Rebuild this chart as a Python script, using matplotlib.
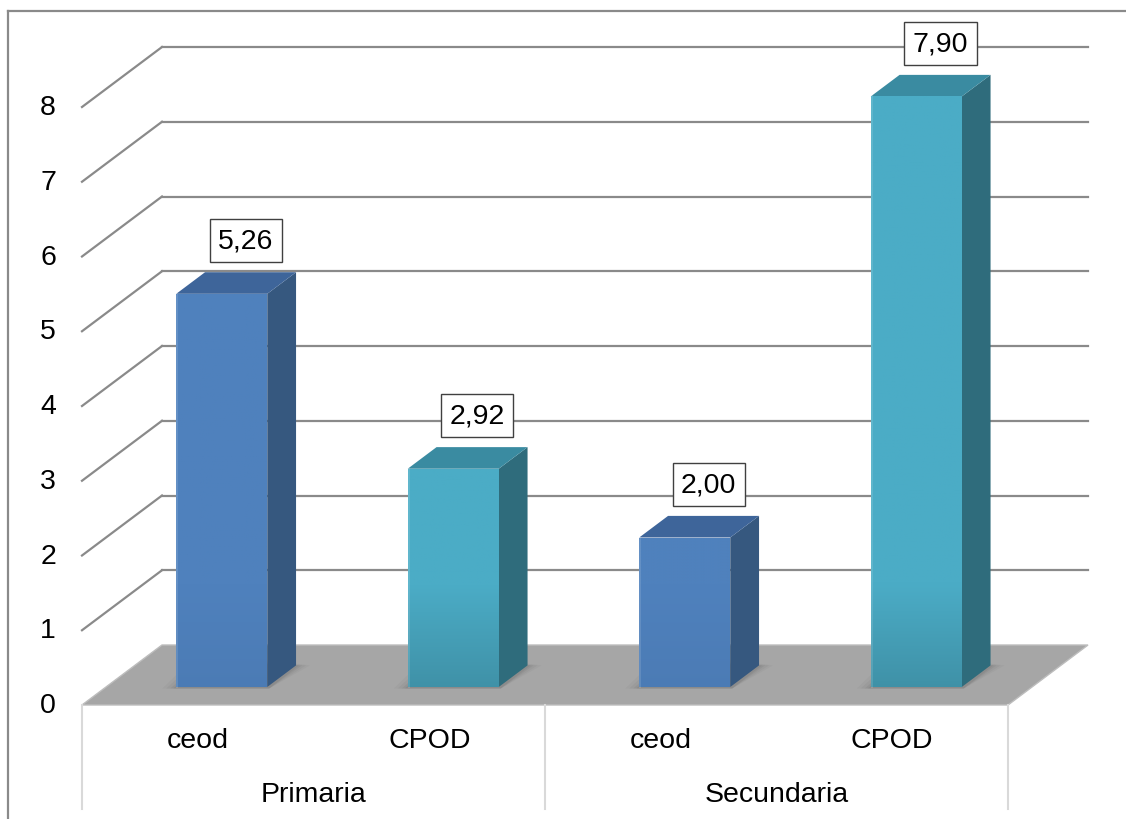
import numpy as np
import matplotlib.pyplot as plt
from matplotlib.patches import Polygon, Rectangle
from matplotlib.colors import to_rgb

plt.rcParams['font.family'] = ['Liberation Sans', 'DejaVu Sans']

niveles = ["Primaria", "Secundaria"]
indices = ["ceod", "CPOD"]
valores = [5.26, 2.92, 2.00, 7.90]
etiquetas = ["5,26", "2,92", "2,00", "7,90"]
ticks = [0, 1, 2, 3, 4, 5, 6, 7, 8]

# colores: cara frontal, lateral, superior
col_ceod = ("#4F81BD", "#36587F", "#3E659A")
col_cpod = ("#4BACC6", "#2F6C7C", "#3A8BA1")

PX = 74.75            # pixeles por unidad
X0, X1 = 82, 1008     # borde frontal del piso
DX, DY = 80, 60 / PX  # profundidad del piso
ANCHO = 91
F0, F1 = 0.30, 0.66   # profundidad de la barra (fraccion)
FS = 20.5

fig = plt.figure(figsize=(11.26, 8.2), dpi=100)
ax = fig.add_axes([0, 0, 1, 1])
ax.axis('off')
ylo, yhi = -114 / PX, 706 / PX

# piso
piso = Polygon([(X0, 0), (X1, 0), (X1 + DX, DY), (X0 + DX, DY)],
               closed=True, facecolor="#A6A6A6", edgecolor="#BDBDBD", lw=1, zorder=1)
ax.add_patch(piso)

# lineas de division
for t in ticks[1:]:
    ax.plot([X0 + DX, X1 + DX], [t + DY, t + DY], color="#8A8A8A", lw=1.6, zorder=2)
    ax.plot([X0, X0 + DX], [t, t + DY], color="#8A8A8A", lw=1.6, zorder=2)
for t in ticks:
    ax.text(48, t, str(t), ha="center", va="center", fontsize=FS)

slot = (X1 - X0) / 4
for i, v in enumerate(valores):
    cf, cl, ct = col_ceod if i % 2 == 0 else col_cpod
    xl = X0 + slot * (i + 0.5) - ANCHO / 2 + F0 * DX
    xr = xl + ANCHO
    y0 = F0 * DY
    dxs = (F1 - F0) * DX
    dys = (F1 - F0) * DY

    # sombra en la base
    for k, a in [(14, 0.06), (10, 0.08), (6, 0.10), (3, 0.12)]:
        sh = Polygon([(xl - k, y0 - 0.02), (xr + 2, y0 - 0.02),
                      (xr + dxs + k, y0 + dys), (xl + dxs - k * 0.3, y0 + dys + k / PX)],
                     closed=True, facecolor="#555555", alpha=a, lw=0, zorder=3)
        ax.add_patch(sh)

    # cara frontal con degradado
    frente = Rectangle((xl, y0), ANCHO, v, facecolor=cf, edgecolor="none", zorder=4)
    ax.add_patch(frente)
    ys = np.linspace(y0 + v, y0, 200)
    base = np.array(to_rgb(cf))
    k = np.clip((1.6 - ys) / 1.6, 0, 1)[:, None] * (0.18 if i % 2 else 0.05)
    grad = base * (1 - k)
    img = ax.imshow(np.repeat(grad[:, None, :], 2, axis=1),
                    extent=[xl, xr, y0, y0 + v], aspect="auto", zorder=4.5)
    img.set_clip_path(frente)
    ax.plot([xl + 1, xl + 1], [y0, y0 + v], color="white", alpha=0.12, lw=1.5, zorder=5)

    lado = Polygon([(xr, y0), (xr + dxs, y0 + dys), (xr + dxs, y0 + dys + v), (xr, y0 + v)],
                   closed=True, facecolor=cl, edgecolor="none", zorder=4)
    ax.add_patch(lado)
    tapa = Polygon([(xl, y0 + v), (xr, y0 + v), (xr + dxs, y0 + v + dys), (xl + dxs, y0 + v + dys)],
                   closed=True, facecolor=ct, edgecolor="none", zorder=4)
    ax.add_patch(tapa)

    ax.text(xl + ANCHO / 2 + 24, v + 0.95, etiquetas[i], ha="center", va="center",
            fontsize=FS, zorder=6,
            bbox=dict(boxstyle="square,pad=0.3", facecolor="white", edgecolor="#404040", lw=1))

    ax.text(X0 + slot * (i + 0.5), -35 / PX, indices[i % 2], ha="center", va="center", fontsize=FS)

for j, n in enumerate(niveles):
    ax.text(X0 + slot * (2 * j + 1), -89 / PX, n, ha="center", va="center", fontsize=FS)

for xv in [X0, X0 + 2 * slot, X1]:
    ax.plot([xv, xv], [0, -104 / PX], color="#D9D9D9", lw=1.5, zorder=1)

# marco
ax.plot([8, 1126], [694 / PX, 694 / PX], color="#8A8A8A", lw=1.6)
ax.plot([8, 8], [694 / PX, ylo], color="#8A8A8A", lw=1.6)

ax.set_xlim(0, 1126)
ax.set_ylim(ylo, yhi)
fig.savefig("out.png", dpi=100)
